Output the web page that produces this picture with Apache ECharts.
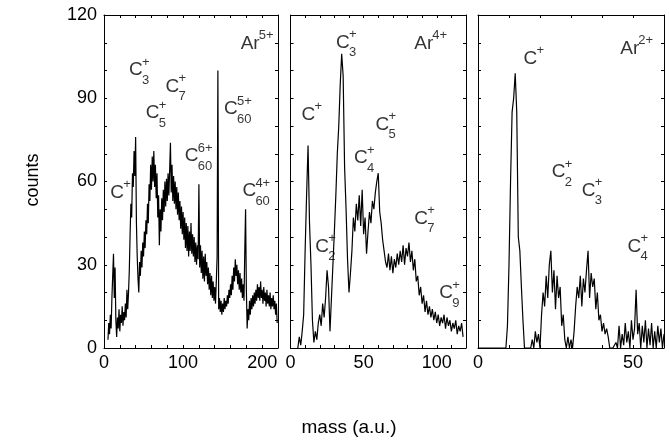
<!DOCTYPE html>
<html><head><meta charset="utf-8">
<script src="https://cdn.jsdelivr.net/npm/echarts@6/dist/echarts.min.js"></script>
<style>html,body{margin:0;padding:0;background:#fff}#c{width:669px;height:441px}</style>
</head><body><div id="c"></div>
<script>
// ---- data ----
const yTicks = [0, 30, 60, 90, 120];
const p1Ticks = [0, 100, 200];
const p2Ticks = [0, 50, 100];
const p3Ticks = [0, 50];

// Panel 1 (Ar5+): counts from mass 5, step 1
const p1Start = 5, p1Step = 1;
const p1Counts = [
 3, 9, 5, 12, 7, 18, 26, 34, 18, 29,
 10, 4, 11, 7, 14, 6, 12, 9, 15, 8,
 13, 10, 16, 11, 21, 14, 20, 28, 41, 52,
 47, 63, 58, 71, 62, 76, 45, 33, 25, 20,
 31, 26, 35, 29, 38, 33, 42, 36, 46, 41,
 52, 45, 59, 53, 66, 57, 69, 60, 71, 58,
 66, 54, 63, 47, 55, 37, 50, 42, 54, 46,
 57, 49, 60, 51, 61, 53, 63, 55, 64, 74,
 56, 66, 53, 62, 52, 60, 50, 58, 48, 56,
 46, 53, 43, 51, 41, 49, 39, 47, 36, 45,
 35, 44, 33, 42, 35, 45, 34, 41, 33, 40,
 31, 38, 30, 37, 32, 59, 29, 37, 27, 35,
 25, 33, 24, 34, 26, 31, 23, 29, 21, 27,
 19, 26, 18, 24, 17, 22, 16, 24, 33, 100,
 14, 18, 13, 17, 12, 16, 13, 18, 14, 17,
 15, 19, 16, 21, 18, 23, 19, 26, 21, 29,
 24, 32, 26, 30, 23, 28, 21, 27, 20, 25,
 18, 23, 17, 35, 50, 21, 7, 14, 10, 17,
 12, 18, 14, 19, 15, 20, 16, 21, 17, 23,
 18, 22, 17, 24, 18, 21, 16, 22, 17, 20,
 15, 21, 16, 19, 15, 20, 14, 18, 15, 19,
 14, 17, 12, 16, 9
];

// Panel 2 (Ar4+): counts from mass 5, step 1
const p2Start = 5, p2Step = 1;
const p2Counts = [
 0, 4, 1, 6, 12, 35, 55, 73, 45, 30,
 10, 2, 6, 3, 9, 12, 8, 16, 11, 18,
 28, 22, 6, 18, 30, 42, 55, 70, 80, 95,
 106, 98, 65, 50, 32, 20, 27, 35, 47, 42,
 52, 46, 55, 44, 57, 41, 47, 34, 42, 49,
 45, 53, 50, 56, 60, 63, 49, 45, 39, 35,
 31, 29, 34, 28, 33, 27, 32, 29, 34, 30,
 35, 31, 37, 30, 36, 33, 38, 31, 35, 28,
 32, 24, 26, 19, 22, 16, 19, 13, 17, 12,
 15, 11, 14, 10, 13, 9, 12, 8, 11, 9,
 12, 7, 11, 8, 10, 6, 9, 7, 10, 5,
 8, 6, 9, 4
];

// Panel 3 (Ar2+): counts from mass 0, step 0.5
const p3Start = 0, p3Step = 0.5;
const p3Counts = [
 0, 0, 0, 0, 0, 0, 0, 0, 0, 0,
 0, 0, 0, 0, 0, 0, 0, 0, 0, 8,
 30, 60, 85, 90, 99, 85, 40, 35, 22, 10,
 0, 0, 0, 0, 0, 3, 0, 6, 2, 5,
 0, 12, 20, 15, 26, 18, 30, 35, 20, 28,
 14, 26, 18, 22, 8, 12, 3, 0, 4, 0,
 3, 0, 6, 15, 22, 18, 26, 15, 25, 20,
 28, 35, 18, 27, 22, 25, 14, 20, 10, 12,
 6, 9, 5, 7, 4, 0, 0, 0, 0, 2,
 0, 8, 0, 5, 1, 9, 2, 6, 0, 10,
 3, 7, 21, 5, 9, 0, 8, 2, 10, 0,
 7, 1, 9, 0, 6, 0, 8, 2, 7, 0,
 5
];

// Peak annotations: [base, superscript, subscript, mass, counts]
const p1Notes = [
 ['Ar', '5+', '', 184.2, 109.8],
 ['C', '+', '3', 39.9, 100.1],
 ['C', '+', '7', 86.1, 94.2],
 ['C', '+', '5', 61, 84.6],
 ['C', '5+', '60', 159.9, 86.1],
 ['C', '6+', '60', 110.4, 69.1],
 ['C', '+', '', 16.2, 56.0],
 ['C', '4+', '60', 183.2, 56.6]
];
const p2Notes = [
 ['C', '+', '3', 35.6, 110.1],
 ['Ar', '4+', '', 90.8, 109.8],
 ['C', '+', '', 12, 84],
 ['C', '+', '5', 62.6, 80.5],
 ['C', '+', '4', 47.9, 68.4],
 ['C', '+', '7', 89.1, 46.6],
 ['C', '+', '2', 21.3, 36.6],
 ['C', '+', '9', 106.2, 19.8]
];
const p3Notes = [
 ['Ar', '2+', '', 48.8, 108],
 ['C', '+', '', 16.8, 104.4],
 ['C', '+', '2', 25.9, 63.4],
 ['C', '+', '3', 35.6, 56.7],
 ['C', '+', '4', 50.3, 36.6]
];

// ---- chart ----
const FONT = "'Liberation Sans', Arial, Helvetica, sans-serif";
const chart = echarts.init(document.getElementById('c'), null, {renderer: 'canvas'});

const grids = [
 {left: 104, top: 15, width: 174, height: 333},
 {left: 290.5, top: 15, width: 175.5, height: 333},
 {left: 478, top: 15, width: 186, height: 333}
];
const xCfg = [
 {max: 220, interval: 20, labels: p1Ticks},
 {max: 120, interval: 10, labels: p2Ticks},
 {max: 60, interval: 10, labels: p3Ticks}
];

const xAxis = [], yAxis = [], series = [];
const lineCol = '#000';
grids.forEach((g, i) => {
  const c = xCfg[i];
  ['bottom', 'top'].forEach(pos => {
    xAxis.push({
      type: 'value', gridIndex: i, position: pos, min: 0, max: c.max, interval: c.interval,
      axisLine: {show: true, onZero: false, lineStyle: {color: lineCol, width: 1}},
      axisTick: {show: true, inside: true, length: 3, lineStyle: {color: lineCol}},
      splitLine: {show: false},
      axisLabel: {
        show: pos === 'bottom', margin: 6, color: '#000', fontFamily: FONT, fontSize: 18,
        showMinLabel: true, showMaxLabel: true,
        formatter: v => (c.labels.indexOf(v) >= 0 ? String(v) : '')
      }
    });
  });
  ['left', 'right'].forEach(pos => {
    yAxis.push({
      type: 'value', gridIndex: i, position: pos, min: 0, max: 120, interval: 10,
      axisLine: {show: true, onZero: false, lineStyle: {color: lineCol, width: 1}},
      axisTick: {show: true, inside: true, length: 3, lineStyle: {color: lineCol}},
      splitLine: {show: false},
      axisLabel: {
        show: i === 0 && pos === 'left', margin: 7, color: '#000', fontFamily: FONT, fontSize: 18,
        formatter: v => (yTicks.indexOf(v) >= 0 ? String(v) : '')
      }
    });
  });
});

const spectra = [
  [p1Start, p1Step, p1Counts],
  [p2Start, p2Step, p2Counts],
  [p3Start, p3Step, p3Counts]
];
spectra.forEach(([s, st, arr], i) => {
  series.push({
    type: 'line', xAxisIndex: i * 2, yAxisIndex: i * 2, showSymbol: false, symbol: 'none',
    animation: false, silent: true,
    lineStyle: {color: '#000', width: 1.2},
    data: arr.map((v, k) => [s + k * st, v])
  });
});

const rich = {
  spC: {width: 13, fontSize: 13, lineHeight: 2, fontFamily: FONT},
  spAr: {width: 18, fontSize: 13, lineHeight: 2, fontFamily: FONT},
  sup: {fontSize: 13, lineHeight: 2, color: '#000', fontFamily: FONT},
  base: {fontSize: 19, lineHeight: 14, color: '#000', fontFamily: FONT},
  sub: {fontSize: 13, lineHeight: 6, color: '#000', fontFamily: FONT}
};
[p1Notes, p2Notes, p3Notes].forEach((notes, i) => {
  series.push({
    type: 'scatter', xAxisIndex: i * 2, yAxisIndex: i * 2, symbolSize: 0, animation: false, silent: true,
    data: notes.map(n => ({
      value: [n[3], n[4]],
      label: {
        show: true, position: 'inside', align: 'left', verticalAlign: 'top', color: '#000',
        offset: [n[0] === 'Ar' ? -9 : -6.5, -9],
        rich: rich,
        formatter: (n[0] === 'Ar' ? '{spAr| }' : '{spC| }') + '{sup|' + n[1] + '}\n{base|' + n[0] + '}' +
          (n[2] ? '\n{spC| }{sub|' + n[2] + '}' : '')
      }
    }))
  });
});

chart.setOption({
  backgroundColor: '#fff',
  animation: false,
  grid: grids,
  xAxis: xAxis,
  yAxis: yAxis,
  series: series,
  graphic: [
    {type: 'text', rotation: Math.PI / 2, position: [33, 180],
     style: {text: 'counts', font: "18px " + FONT, fill: '#000', textAlign: 'center', textVerticalAlign: 'middle'}},
    {type: 'text', position: [349, 428],
     style: {text: 'mass (a.u.)', font: "19px " + FONT, fill: '#000', textAlign: 'center', textVerticalAlign: 'middle'}}
  ]
});
</script></body></html>
